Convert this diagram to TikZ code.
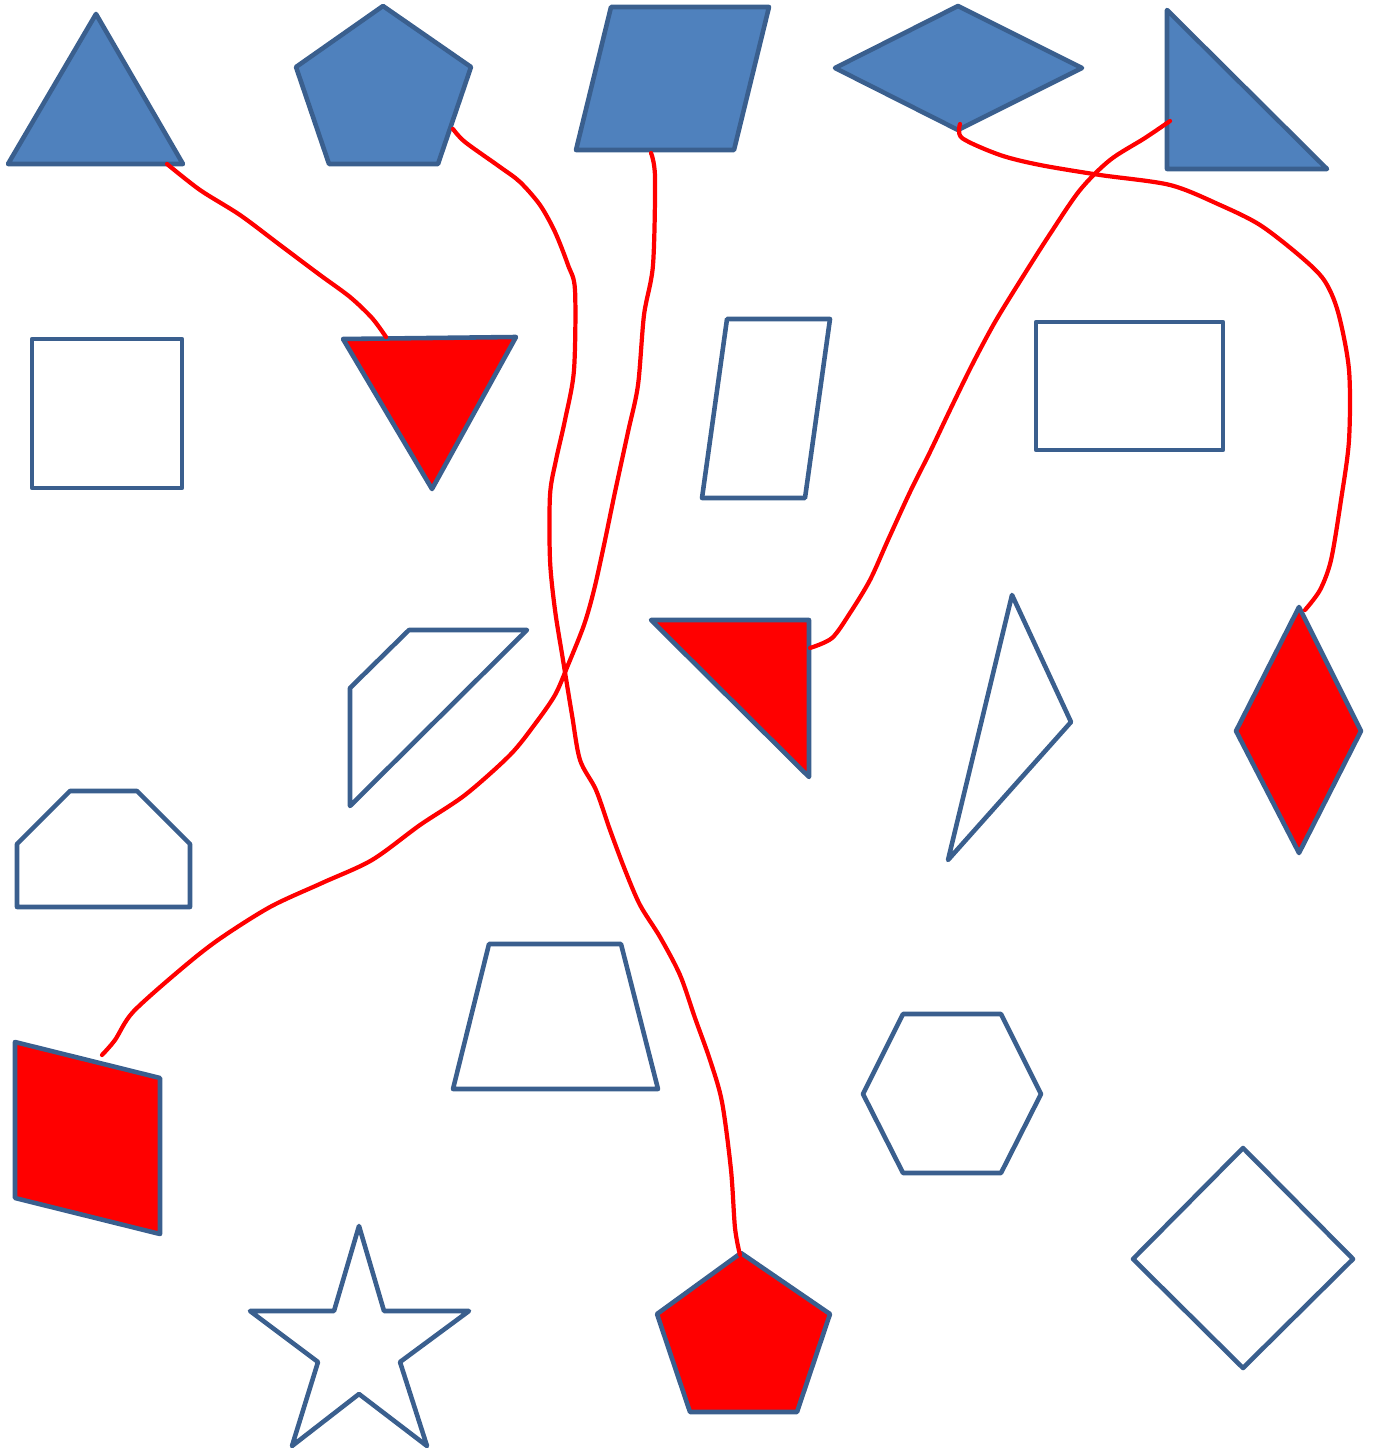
\documentclass[tikz,border=0pt]{standalone}
\begin{document}
\begin{tikzpicture}[x=0.01cm,y=-0.01cm,
  shp/.style={draw=strokeblue,line width=1.3pt,line join=round},
  bluefill/.style={shp,fill=fillblue},
  redfill/.style={shp,fill=red},
  outl/.style={shp,fill=white},
  wire/.style={draw=red,line width=1.2pt,line cap=round,line join=round}]
\definecolor{strokeblue}{HTML}{3A5F8E}
\definecolor{fillblue}{HTML}{4F81BD}
\useasboundingbox (0,0) rectangle (1373,1449);
% row 1 (blue filled)
\draw[bluefill] (8,164) -- (96,14) -- (183,164) -- cycle;
\draw[bluefill] (296,67) -- (383,6) -- (471,67) -- (438,164) -- (329,164) -- cycle;
\draw[bluefill] (576,150) -- (611,7) -- (769,7) -- (734,150) -- cycle;
\draw[bluefill] (835,68) -- (958,6) -- (1082,68) -- (958,130) -- cycle;
\draw[bluefill] (1167,10) -- (1167,169) -- (1327,169) -- cycle;
% row 2
\draw[outl] (32,339) rectangle (182,488);
\draw[redfill] (343,339) -- (516,337) -- (432,489) -- cycle;
\draw[outl] (727,319) -- (830,319) -- (805,498) -- (702,498) -- cycle;
\draw[outl] (1036,322) rectangle (1223,450);
% row 3
\draw[outl] (350,688) -- (409,630) -- (527,630) -- (350,806) -- cycle;
\draw[redfill] (651,620) -- (809,620) -- (809,777) -- cycle;
\draw[outl] (1012,595) -- (1071,722) -- (948,860) -- cycle;
\draw[redfill] (1299,607) -- (1361,731) -- (1299,853) -- (1236,731) -- cycle;
% row 4
\draw[outl] (17,844) -- (70,791) -- (137,791) -- (190,844) -- (190,907) -- (17,907) -- cycle;
\draw[outl] (489,944) -- (621,944) -- (658,1089) -- (453,1089) -- cycle;
\draw[outl] (863,1094) -- (903,1014) -- (1001,1014) -- (1041,1094) -- (1001,1173) -- (903,1173) -- cycle;
\draw[redfill] (15,1042) -- (160,1078) -- (160,1234) -- (15,1198) -- cycle;
% row 5
\draw[outl] (359,1226) -- (384,1311) -- (469,1311) -- (400,1362) -- (427,1446) -- (359,1394) -- (292,1446) -- (318,1362) -- (250,1311) -- (334,1311) -- cycle;
\draw[redfill] (741,1253) -- (830,1314) -- (797,1412) -- (690,1412) -- (657,1314) -- cycle;
\draw[outl] (1243,1148) -- (1353,1259) -- (1243,1368) -- (1133,1259) -- cycle;
% red curves
\draw[wire] plot[smooth,tension=0.5] coordinates {(167,164) (200,190) (240,215) (280,245) (320,275) (350,297) (372,318) (386,337)};
\draw[wire] plot[smooth,tension=0.5] coordinates {(453,129) (465,142) (500,167) (520,182) (540,205) (555,232) (568,265) (575,290) (574,370) (565,420) (556,460) (550,495) (550,560) (555,610) (563,660) (572,715) (580,760) (596,790) (610,830) (625,870) (640,905) (660,937) (680,975) (695,1018) (710,1060) (722,1102) (731,1170) (735,1228) (740,1255)};
\draw[wire] plot[smooth,tension=0.5] coordinates {(651,153) (655,177) (653,265) (644,315) (638,385) (628,432) (615,492) (604,545) (594,590) (584,625) (568,665) (555,695) (535,724) (510,755) (465,795) (420,825) (372,860) (322,883) (270,907) (218,940) (180,970) (133,1012) (115,1040) (102,1055)};
\draw[wire] plot[smooth,tension=0.5] coordinates {(960,124) (962,138) (1000,155) (1040,165) (1100,175) (1170,185) (1220,205) (1260,225) (1300,256) (1324,280) (1338,312) (1349,370) (1349,440) (1341,500) (1331,560) (1320,590) (1305,610)};
\draw[wire] plot[smooth,tension=0.5] coordinates {(1170,121) (1145,138) (1110,160) (1080,190) (1050,234) (1022,278) (995,322) (972,365) (950,410) (930,452) (910,492) (888,540) (870,580) (850,613) (832,638) (810,648)};
\end{tikzpicture}
\end{document}
